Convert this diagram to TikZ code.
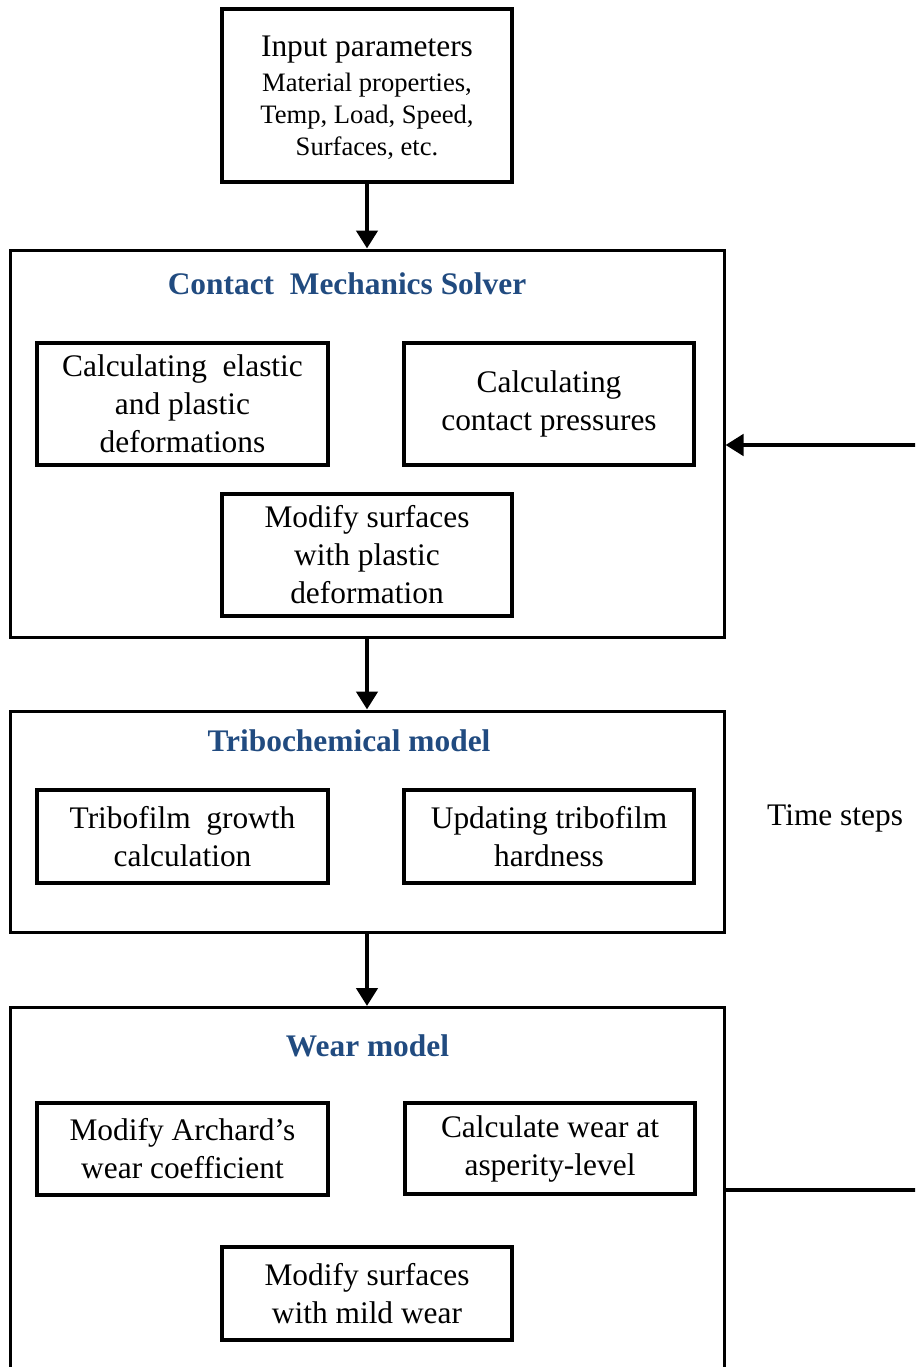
\documentclass[tikz,border=0pt]{standalone}
\usepackage{fontspec}
\setmainfont{Liberation Serif}
\usetikzlibrary{arrows.meta}
\definecolor{titleblue}{RGB}{33,75,128}
\begin{document}
\begin{tikzpicture}[x=1pt,y=-1pt,
  outerbox/.style={draw=black,line width=3pt,inner sep=0pt},
  innerbox/.style={draw=black,line width=3.8pt,inner sep=0pt,align=center,
    font=\fontsize{31.4}{38}\selectfont},
  titletext/.style={text=titleblue,font=\fontsize{31.4}{38}\selectfont\bfseries,inner sep=0pt},
  flow/.style={line width=4.5pt,-{Triangle[length=18pt,width=21pt]}},
  plain/.style={line width=4.5pt}
]
\useasboundingbox (0,0) rectangle (915,1367);
\clip (0,0) rectangle (915,1367);
\fill[white] (0,0) rectangle (915,1367);

% input box
\node[innerbox,minimum width=290pt,minimum height=173pt] (inp) at (367,95.5) {};
\node[align=center,inner sep=0pt,font=\fontsize{26.6}{32}\selectfont] (inptext) at (367,98)
  {{\fontsize{31.4}{32}\selectfont Input parameters}\\[3pt]
  Material properties,\\
  Temp, Load, Speed,\\
  Surfaces, etc.};

% contact mechanics solver
\node[outerbox,minimum width=714pt,minimum height=387pt] (cms) at (367,443.5) {};
\node[titletext] (cmst) at (347,284) {Contact\ \ Mechanics Solver};
\node[innerbox,minimum width=291pt,minimum height=122pt] (A) at (182.5,404) {Calculating\ \ elastic\\and plastic\\deformations};
\node[innerbox,minimum width=290pt,minimum height=122pt] (B) at (549,404) {Calculating\\contact pressures};
\node[innerbox,minimum width=290pt,minimum height=122pt] (C) at (367,555) {Modify surfaces\\with plastic\\deformation};

% tribochemical model
\node[outerbox,minimum width=714pt,minimum height=221pt] (tri) at (367,821.5) {};
\node[titletext] (trit) at (349,741) {Tribochemical model};
\node[innerbox,minimum width=291pt,minimum height=93pt] (D) at (182.5,836.5) {Tribofilm\ \ growth\\calculation};
\node[innerbox,minimum width=290pt,minimum height=93pt] (E) at (549,836.5) {Updating tribofilm\\hardness};

% wear model
\node[outerbox,minimum width=714pt,minimum height=420pt,anchor=north] (wear) at (367,1006) {};
\node[titletext] (weart) at (367.5,1046) {Wear model};
\node[innerbox,minimum width=291pt,minimum height=92pt] (F) at (182.5,1149) {Modify Archard's\\wear coefficient};
\node[innerbox,minimum width=290pt,minimum height=91pt] (G) at (550,1148.5) {Calculate wear at\\asperity-level};
\node[innerbox,minimum width=290pt,minimum height=93pt] (H) at (367,1293.5) {Modify surfaces\\with mild wear};

% time steps
\node[inner sep=0pt,anchor=west,font=\fontsize{31.4}{38}\selectfont] (ts) at (767,818) {Time steps};

% connectors
\draw[flow] (inp.south) -- (cms.north);
\draw[flow] (cms.south) -- (tri.north);
\draw[flow] (tri.south) -- (wear.north);

\coordinate (loopA) at (940,1190);
\coordinate (loopB) at (940,445);
\draw[plain] (wear.east |- loopA) -- (loopA) -- (loopB);
\draw[flow] (loopB) -- (cms.east |- loopB);
\end{tikzpicture}
\end{document}
